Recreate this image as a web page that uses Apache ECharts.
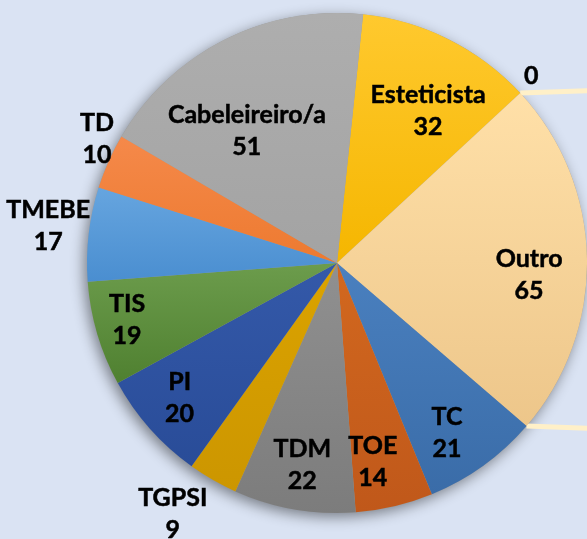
<!DOCTYPE html>
<html>
<head>
<meta charset="utf-8">
<script src="https://cdn.jsdelivr.net/npm/echarts@6/dist/echarts.min.js"></script>
<style>
html,body{margin:0;padding:0;background:#DAE3F3;}
#chart{width:587px;height:539px;}
</style>
</head>
<body>
<div id="chart"></div>
<script>
const categories = ['Esteticista', '', 'Outro', 'TC', 'TOE', 'TDM', 'TGPSI', 'PI', 'TIS', 'TMEBE', 'TD', 'Cabeleireiro/a'];
const values = [32, 0, 65, 21, 14, 22, 9, 20, 19, 17, 10, 51];

// styling (not data)
const topColors = ['#FFC92E', '#FFC92E', '#FFE0A8', '#4A80BF', '#D2681F', '#909090', '#DBA300', '#3459A9', '#6C9C4C', '#66A5DF', '#F5894A', '#AEAEAE'];
const botColors = ['#F5B600', '#F5B600', '#EDC68A', '#3A6CA8', '#C0581A', '#7C7C7C', '#CC9600', '#294C98', '#4F8030', '#4A8ED0', '#ED7A30', '#A3A3A3'];
const labelRadial = [0.71, 1.08, 0.77, 0.81, 0.81, 0.82, 1.20, 0.83, 0.87, 1.165, 1.08, 0.64];
const labelShift = [4.3, -1.1, 4.7, 2.9, 3.1, -0.1, 3.4, 0.9, 1.3, 0.7, 3.3, -7.5];

const CX = 337, CY = 263, R = 250;
const START = 6; // degrees clockwise from 12 o'clock
const total = values.reduce((a, b) => a + b, 0);

const cum = [];
let acc = 0;
values.forEach(v => { cum.push(acc); acc += v; });
function angleAt(v) { return (START + v / total * 360) * Math.PI / 180; }
function pt(a, rr) { return [CX + rr * Math.sin(a), CY - rr * Math.cos(a)]; }

const chart = echarts.init(document.getElementById('chart'));

const data = categories.map((c, i) => ({
  name: c,
  value: values[i],
  itemStyle: {
    color: new echarts.graphic.LinearGradient(0, 0, 0, 1, [
      { offset: 0, color: topColors[i] },
      { offset: 1, color: botColors[i] }
    ])
  }
}));

// connector lines from "Outro" slice edges (bar-of-pie connectors)
const outroIdx = 2;
const aStart = angleAt(cum[outroIdx]);
const aEnd = angleAt(cum[outroIdx] + values[outroIdx]);
const p1 = pt(aStart, R), p2 = pt(aEnd, R);

chart.setOption({
  backgroundColor: '#DAE3F3',
  animation: false,
  graphic: [
    { type: 'line', shape: { x1: p1[0], y1: p1[1], x2: p1[0] + 120, y2: p1[1] - 4 }, style: { stroke: '#FFF0C8', lineWidth: 5 }, z: 1 },
    { type: 'line', shape: { x1: p2[0], y1: p2[1], x2: p2[0] + 120, y2: p2[1] + 4.5 }, style: { stroke: '#FFF0C8', lineWidth: 5 }, z: 1 }
  ],
  series: [
    {
      type: 'pie',
      silent: true,
      center: [CX, CY],
      radius: R,
      z: 0,
      label: { show: false },
      labelLine: { show: false },
      itemStyle: { color: '#9a9a9a', shadowBlur: 14, shadowOffsetX: -3, shadowOffsetY: 4, shadowColor: 'rgba(0,0,0,0.45)' },
      data: [{ value: 1 }]
    },
    {
      type: 'pie',
      center: [CX, CY],
      radius: R,
      startAngle: 90 - START,
      clockwise: true,
      avoidLabelOverlap: false,
      z: 2,
      itemStyle: { borderWidth: 0 },
      label: {
        show: true,
        position: 'inside',
        color: '#000',
        fontFamily: 'Lato',
        fontWeight: 'bold',
        fontSize: 25,
        lineHeight: 32,
        textBorderColor: '#000',
        textBorderWidth: 0.5,
        align: 'center',
        verticalAlign: 'middle',
        formatter: p => (p.name ? p.name + '\n' : '') + p.value
      },
      labelLine: { show: false },
      labelLayout: function (params) {
        const i = params.dataIndex;
        const a = angleAt(cum[i] + values[i] / 2) + labelShift[i] * Math.PI / 180;
        const q = pt(a, labelRadial[i] * R);
        return { x: q[0], y: q[1], align: 'center', verticalAlign: 'middle' };
      },
      data: data
    }
  ]
});
</script>
</body>
</html>
